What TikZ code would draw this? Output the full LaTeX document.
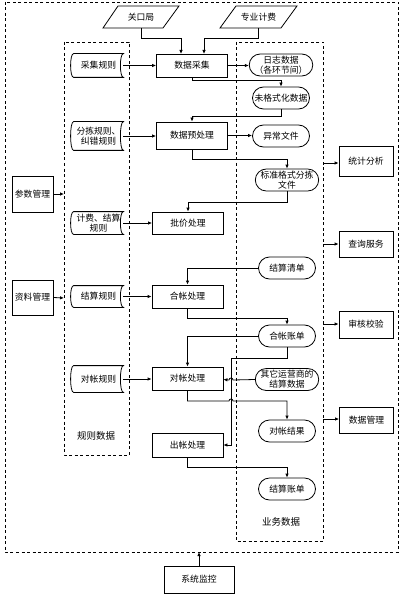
\documentclass[tikz,border=0pt]{standalone}
\usepackage{fontspec}
\setmainfont{Noto Sans CJK SC}
\usetikzlibrary{shapes.misc,arrows.meta}
\begin{document}
\begin{tikzpicture}[x=1pt,y=-1pt,
  font=\fontsize{8.8}{10}\selectfont, line width=0.8pt,
  box/.style={draw, rectangle, minimum width=71pt, minimum height=23pt, inner sep=1pt, align=center},
  term/.style={draw, rounded rectangle, minimum width=58pt, minimum height=22pt, inner sep=0.5pt, align=center},
  store/.style={minimum width=49pt, minimum height=23pt, inner sep=0pt, align=center},
  sidebox/.style={draw, rectangle, minimum width=54pt, minimum height=27pt, inner sep=1pt, align=center},
  para/.style={minimum width=60pt, minimum height=22pt, inner sep=0pt},
  region/.style={draw, dash pattern=on 3pt off 2.5pt},
  arr/.style={-{Latex[length=4pt,width=3.5pt]}},
  lbl/.style={font=\fontsize{9.5}{11}\selectfont}
]
\useasboundingbox (0,0) rectangle (401,596);
% regions
\draw[region] (5,2) rectangle (398,552);
\draw[region] (64,42) rectangle (129,455);
\draw[region] (236,42) rectangle (323,541);
\node[lbl] (lblr) at (96,436) {规则数据};
\node[lbl] (lblb) at (281,522) {业务数据};

% sources
\draw (118,6) -- (179,6) -- (163,28) -- (103,28) -- cycle;
\node[para] (gkj) at (141,17) {关口局};
\draw (236,6) -- (297,6) -- (281,28) -- (220,28) -- cycle;
\node[para] (zyjf) at (258.5,17) {专业计费};

% processes
\node[box] (cj) at (192,65.5) {数据采集};
\node[box, minimum height=27pt] (yc) at (192,135.5) {数据预处理};
\node[box, minimum height=22pt] (pj) at (188,223) {批价处理};
\node[box] (hz) at (187.5,296.5) {合帐处理};
\node[box] (dz) at (187.5,378.5) {对帐处理};
\node[box, minimum height=24pt] (cz) at (187.5,445) {出帐处理};

% rules
\node[store] (r1) at (98.5,65.5) {采集规则};
\node[store, minimum height=28pt] (r2) at (98.5,136) {分拣规则、\\纠错规则};
\node[store, minimum height=22pt] (r3) at (98.5,223) {计费、结算\\规则};
\node[store, minimum height=21pt] (r4) at (98.5,296.5) {结算规则};
\node[store, minimum height=26pt] (r5) at (98.5,379) {对帐规则};
\foreach \n in {r1,r2,r3,r4,r5}
  \draw (\n.north west) .. controls ([xshift=-4pt]\n.north west) and ([xshift=-4pt]\n.south west) .. (\n.south west)
        -- (\n.south east) .. controls ([xshift=-4pt]\n.south east) and ([xshift=-4pt]\n.north east) .. (\n.north east) -- cycle;

% business data
\node[term] (rz) at (281,65) {日志数据\\（各环节间）};
\node[term] (wgs) at (281,98) {未格式化数据};
\node[term] (yw) at (281,136) {异常文件};
\node[term] (bz) at (287,180) {标准格式分拣\\文件};
\node[term] (jq) at (287,268) {结算清单};
\node[term] (hzd) at (287,336) {合帐账单};
\node[term] (qt) at (287,379.5) {其它运营商的\\结算数据};
\node[term] (dzjg) at (287,431) {对帐结果};
\node[term] (jszd) at (287,489) {结算账单};

% right services
\node[sidebox, minimum height=30pt] (tj) at (366,161) {统计分析};
\node[sidebox, minimum height=26pt] (cx) at (366,244) {查询服务};
\node[sidebox] (sh) at (366,324.5) {审核校验};
\node[sidebox, minimum height=26pt] (sj) at (366.5,420) {数据管理};

% left management
\node[sidebox, minimum width=41pt, minimum height=36pt] (cs) at (32.5,194) {参数管理};
\node[sidebox, minimum width=41pt, minimum height=35pt] (zl) at (32.5,297.5) {资料管理};

% monitor
\node[box, minimum width=70pt, minimum height=27pt] (xt) at (199,579.5) {系统监控};

% coordinates on region borders
\coordinate (ob) at (199,552);
\coordinate (lc) at (64,194);
\coordinate (lz) at (64,298);
\coordinate (b1) at (323,163);
\coordinate (b2) at (323,244);
\coordinate (b3) at (323,324);
\coordinate (b4) at (323,419);

% connectors
\draw[arr] (gkj.south) |- (181,38) -- (181,54);
\draw[arr] (zyjf.south) |- (204,38) -- (204,54);
\foreach \r/\p in {r1/cj, r2/yc, r3/pj, r4/hz, r5/dz}
  \draw[arr] (\r.east) -- (\r.east -| \p.west);
\draw[arr] (cj.east) -- (rz.west |- cj.east);
\draw[arr] (cj.south) |- (281,80) -- (wgs.north);
\draw[arr] (wgs.south) |- (192,116) -- (yc.north);
\draw[arr] (yc.east) -- (yw.west |- yc.east);
\draw[arr] (yc.south) |- (287,159) -- (bz.north);
\draw[arr] (bz.south) |- (188,202) -- (pj.north);
\draw[arr] (jq.west) -| (hz.north);
\draw[arr] (hz.south) |- (287,318) -- (hzd.north);
\draw[arr] (hzd.west) -| (dz.north);
\draw[arr] (hzd.south) |- (231,358) |- (cz.east);
\draw[arr] (qt.west) -- (233,380) arc[start angle=0, end angle=180, radius=2pt] -- (dz.east |- qt.west);
\draw[arr] (dz.south) |- (229,401) arc[start angle=180, end angle=0, radius=2pt] -| (dzjg.north);
\draw[arr] (cz.south) |- (287,467) -- (jszd.north);

\draw[arr] (b1) -- (b1 -| tj.west);
\draw[arr] (b2) -- (b2 -| cx.west);
\draw[arr] (b3) -- (b3 -| sh.west);
\draw[arr] (b4) -- (b4 -| sj.west);
\draw[arr] (cs.east) -- (lc);
\draw[arr] (zl.east) -- (lz);
\draw[arr] (xt.north) -- (ob);
\end{tikzpicture}
\end{document}
